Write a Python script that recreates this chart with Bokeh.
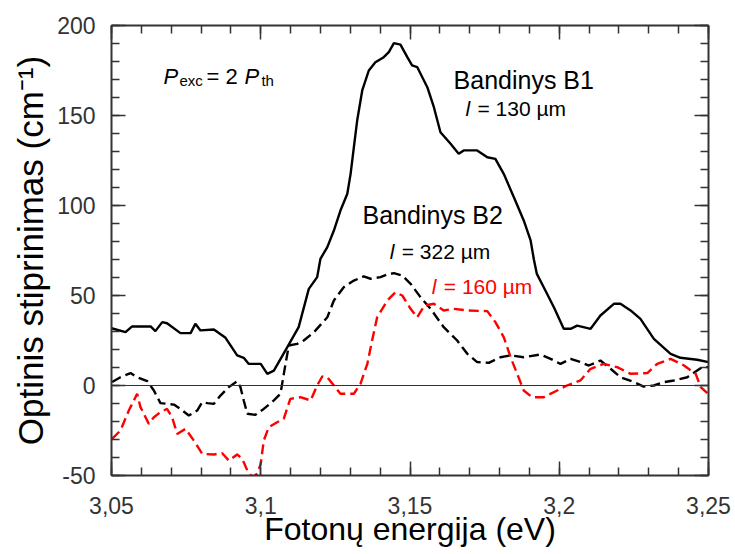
from bokeh.embed import file_html
from bokeh.models import (CustomJSTickFormatter, Label, LinearAxis, Range1d,
                          SingleIntervalTicker, Span)
from bokeh.plotting import figure
from bokeh.resources import INLINE

# Photon energy (eV) and optical gain (cm^-1) for the three samples
b1_energy = [3.0500, 3.0547, 3.0569, 3.0631, 3.0647, 3.0670, 3.0686, 3.0731, 3.0765, 3.0781,
             3.0798, 3.0843, 3.0882, 3.0921, 3.0943, 3.0960, 3.1000, 3.1022, 3.1044, 3.1089,
             3.1127, 3.1161, 3.1189, 3.1200, 3.1223, 3.1245, 3.1267, 3.1290, 3.1301, 3.1312,
             3.1323, 3.1340, 3.1362, 3.1384, 3.1412, 3.1429, 3.1446, 3.1468, 3.1491, 3.1507,
             3.1524, 3.1558, 3.1580, 3.1602, 3.1636, 3.1663, 3.1680, 3.1725, 3.1759, 3.1786,
             3.1814, 3.1848, 3.1881, 3.1904, 3.1915, 3.1925, 3.1948, 3.1982, 3.2015, 3.2038,
             3.2060, 3.2105, 3.2138, 3.2183, 3.2205, 3.2239, 3.2272, 3.2317, 3.2373, 3.2406,
             3.2462, 3.2500]
b1_gain = [31.8, 29.6, 32.8, 32.8, 30.2, 35.2, 34.6, 29.1, 29.1, 34.3,
           30.6, 31.1, 26.5, 16.7, 15.4, 12.0, 12.0, 6.5, 8.3, 21.3,
           32.4, 53.7, 60.2, 70.4, 76.9, 86.1, 97.2, 106.5, 117.6, 132.4,
           147.2, 163.9, 175.0, 179.6, 182.4, 185.2, 190.2, 189.4, 182.4, 177.8,
           176.9, 165.7, 154.6, 140.7, 134.3, 128.7, 130.6, 130.6, 126.8, 125.9,
           117.6, 104.6, 91.7, 80.6, 70.0, 62.0, 54.6, 43.5, 31.5, 31.5,
           33.3, 31.5, 38.9, 45.4, 45.4, 41.7, 37.0, 25.9, 17.6, 15.4,
           14.3, 13.0]

b2_energy = [3.0502, 3.0530, 3.0564, 3.0586, 3.0620, 3.0642, 3.0664, 3.0709, 3.0731, 3.0759,
             3.0787, 3.0804, 3.0821, 3.0843, 3.0865, 3.0893, 3.0921, 3.0932, 3.0943, 3.0955,
             3.0982, 3.1010, 3.1044, 3.1066, 3.1083, 3.1094, 3.1122, 3.1144, 3.1178, 3.1223,
             3.1245, 3.1278, 3.1312, 3.1345, 3.1368, 3.1401, 3.1424, 3.1446, 3.1474, 3.1502,
             3.1535, 3.1569, 3.1613, 3.1658, 3.1692, 3.1725, 3.1764, 3.1803, 3.1837, 3.1881,
             3.1937, 3.1971, 3.2004, 3.2038, 3.2071, 3.2099, 3.2138, 3.2172, 3.2205, 3.2250,
             3.2283, 3.2317, 3.2351, 3.2384, 3.2429, 3.2462, 3.2479, 3.2500]
b2_322_gain = [1.9, 4.6, 6.9, 4.6, 2.4, -2.8, -9.8, -10.6, -13.0, -16.7,
               -13.9, -9.3, -9.8, -10.2, -5.6, -0.9, 2.4, -0.9, -8.3, -15.7,
               -16.3, -13.0, -8.3, -4.6, 12.0, 22.2, 23.1, 25.0, 29.6, 37.9,
               47.2, 54.6, 58.3, 60.6, 59.3, 60.2, 61.7, 62.4, 61.1, 56.5,
               49.1, 42.6, 32.4, 25.0, 17.6, 13.0, 12.6, 15.7, 16.7, 15.7,
               17.2, 14.8, 12.0, 14.8, 13.0, 11.1, 13.9, 9.3, 4.6, 1.9,
               -0.6, 0.0, 1.9, 2.8, 4.6, 8.3, 10.2, 10.2]

b2s_energy = [3.0502, 3.0530, 3.0558, 3.0586, 3.0597, 3.0625, 3.0642, 3.0664, 3.0686, 3.0703,
              3.0720, 3.0748, 3.0776, 3.0804, 3.0843, 3.0871, 3.0893, 3.0921, 3.0938, 3.0955,
              3.0972, 3.0988, 3.1000, 3.1010, 3.1027, 3.1055, 3.1077, 3.1099, 3.1133, 3.1167,
              3.1189, 3.1206, 3.1223, 3.1245, 3.1267, 3.1312, 3.1334, 3.1357, 3.1373, 3.1390,
              3.1424, 3.1451, 3.1474, 3.1502, 3.1524, 3.1548, 3.1580, 3.1613, 3.1647, 3.1692,
              3.1759, 3.1786, 3.1814, 3.1837, 3.1859, 3.1881, 3.1909, 3.1948, 3.1993, 3.2026,
              3.2071, 3.2105, 3.2149, 3.2194, 3.2239, 3.2295, 3.2328, 3.2373, 3.2418, 3.2457,
              3.2474, 3.2496]
b2_160_gain = [-29.6, -25.0, -13.9, -4.6, -12.0, -21.3, -17.6, -14.8, -13.0, -17.6,
               -26.9, -24.1, -30.6, -38.0, -38.3, -37.6, -41.7, -38.3, -40.7, -47.2,
               -51.0, -49.0, -43.5, -30.6, -23.1, -20.4, -18.5, -7.4, -6.5, -8.3,
               0.0, 5.0, 4.6, 0.0, -4.6, -4.6, 0.9, 12.0, 25.0, 37.9,
               47.2, 51.8, 50.0, 42.6, 37.9, 44.4, 45.4, 41.7, 42.6, 41.7,
               41.3, 35.2, 26.9, 15.7, 6.5, -2.8, -6.5, -6.5, -2.8, 0.0,
               2.8, 9.3, 12.0, 10.2, 6.5, 6.9, 12.0, 14.8, 11.1, 6.5,
               -0.9, -4.3]

x_title = "Fotonų energija (eV)"
y_title = "Optinis stiprinimas (cm⁻¹)"

FONT = "Liberation Sans"
AXIS_COLOR = "#333333"

p = figure(width=735, height=554, output_backend="svg", toolbar_location=None,
           x_range=Range1d(3.05, 3.25), y_range=Range1d(-50, 200),
           x_axis_location=None, y_axis_location=None,
           min_border_left=111, min_border_right=27,
           min_border_top=25, min_border_bottom=79)
p.grid.visible = False
p.outline_line_color = None
p.background_fill_color = "white"
p.border_fill_color = "white"

x_fmt = CustomJSTickFormatter(code="return (Math.round(tick*100)/100).toString().replace('.', ',');")
y_fmt = CustomJSTickFormatter(code="return tick.toFixed(0);")
blank = CustomJSTickFormatter(code="return '';")


def make_axis(ticker, formatter, show_labels):
    ax = LinearAxis(ticker=ticker, formatter=formatter)
    ax.axis_line_color = AXIS_COLOR
    ax.axis_line_width = 2
    ax.major_tick_line_color = AXIS_COLOR
    ax.minor_tick_line_color = AXIS_COLOR
    ax.major_tick_line_width = 1.5
    ax.minor_tick_line_width = 1.5
    ax.major_tick_in = 14
    ax.major_tick_out = 0
    ax.minor_tick_in = 8
    ax.minor_tick_out = 0
    ax.major_label_text_font = FONT
    ax.major_label_text_color = AXIS_COLOR
    ax.axis_label_text_font = FONT
    ax.axis_label_text_font_style = "normal"
    ax.axis_label_text_color = "black"
    if show_labels:
        ax.major_label_text_font_size = "23px"
    else:
        ax.major_label_text_font_size = "1px"
        ax.major_label_standoff = 0
    return ax


xt = SingleIntervalTicker(interval=0.05, num_minor_ticks=5)
yt = SingleIntervalTicker(interval=50, num_minor_ticks=5)

bottom = make_axis(xt, x_fmt, True)
bottom.major_label_standoff = 21
bottom.axis_label = x_title
bottom.axis_label_text_font_size = "32px"
bottom.axis_label_standoff = -6

left = make_axis(yt, y_fmt, True)
left.major_label_standoff = 16
left.axis_label = y_title
left.axis_label_text_font_size = "35px"
left.axis_label_standoff = 4

top = make_axis(xt, blank, False)
right = make_axis(yt, blank, False)
p.add_layout(bottom, "below")
p.add_layout(left, "left")
p.add_layout(top, "above")
p.add_layout(right, "right")

p.add_layout(Span(location=0, dimension="width", line_color=AXIS_COLOR, line_width=1))

p.line(b1_energy, b1_gain, line_color="black", line_width=2.4)
p.line(b2_energy, b2_322_gain, line_color="black", line_width=2.4, line_dash="10 5")
p.line(b2s_energy, b2_160_gain, line_color="#ff0000", line_width=2.4, line_dash="10 5")


def add_text(text, x, y, size, color="black", style="normal", dx=0):
    p.add_layout(Label(x=x, y=y, x_offset=dx,
                       text=text, text_font=FONT, text_font_size=size,
                       text_color=color, text_font_style=style,
                       text_align="left", text_baseline="alphabetic"))


# P_exc = 2 P_th
add_text("P", 3.0674, 171.7, "22px", style="italic")
add_text("exc", 3.0674, 169.4, "15px", dx=16)
add_text("= 2", 3.0674, 171.7, "22px", dx=43)
add_text("P", 3.0674, 171.7, "22px", style="italic", dx=81)
add_text("th", 3.0674, 169.4, "15px", dx=98)

# sample B1
add_text("Bandinys B1", 3.1646, 170.0, "25px")
add_text("l", 3.1686, 153.9, "21px", style="italic")
add_text("= 130 µm", 3.1686, 153.9, "21px", dx=12)

# sample B2
add_text("Bandinys B2", 3.1341, 95.0, "25px")
add_text("l", 3.1432, 74.4, "21px", style="italic")
add_text("= 322 µm", 3.1432, 74.4, "21px", dx=12)
add_text("l", 3.1573, 55.0, "21px", color="#ff0000", style="italic")
add_text("= 160 µm", 3.1573, 55.0, "21px", color="#ff0000", dx=12)

open("out.html", "w").write(file_html(p, INLINE))
